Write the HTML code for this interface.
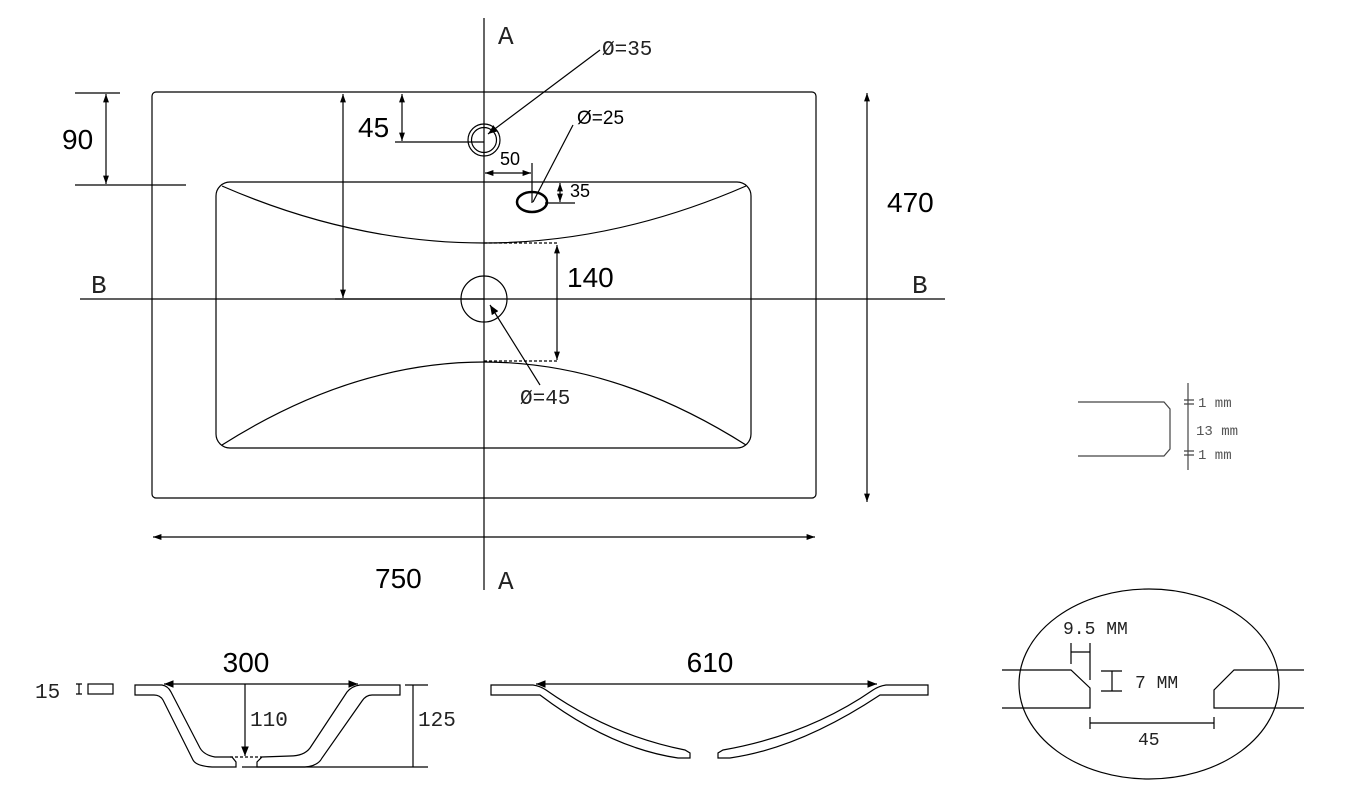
<!DOCTYPE html>
<html><head><meta charset="utf-8"><style>body{margin:0;background:#fff}svg{display:block}</style></head><body>
<svg width="1352" height="803" viewBox="0 0 1352 803" xmlns="http://www.w3.org/2000/svg">
<defs><marker id="a" viewBox="0 0 10 10" refX="10" refY="5" markerWidth="8" markerHeight="8" orient="auto-start-reverse"><path d="M0,1L10,5L0,9z" fill="#000"/></marker>
<marker id="s" viewBox="0 0 10 10" refX="10" refY="5" markerWidth="7" markerHeight="7" orient="auto-start-reverse"><path d="M0,1.5L10,5L0,8.5z" fill="#000"/></marker></defs>
<g fill="none" stroke="#000" stroke-width="1.2">
<rect x="152" y="92" width="664" height="406" rx="4"/>
<rect x="216" y="182" width="535" height="266" rx="14"/>
<path d="M222,186 Q484,300 746,186"/>
<path d="M222,445 Q484,279 746,445"/>
<line x1="484" y1="18" x2="484" y2="590"/>
<line x1="80" y1="299" x2="945" y2="299"/>
<circle cx="484" cy="140" r="16"/><circle cx="484" cy="140" r="12.5"/>
<ellipse cx="532" cy="202" rx="15" ry="10" stroke-width="2.5"/>
<circle cx="484" cy="299" r="23"/>
<line x1="106" y1="94" x2="106" y2="184" marker-start="url(#s)" marker-end="url(#s)"/>
<line x1="75" y1="93" x2="120" y2="93"/><line x1="75" y1="185" x2="186" y2="185"/>
<line x1="402" y1="94" x2="402" y2="141" marker-start="url(#s)" marker-end="url(#s)"/>
<line x1="395" y1="142" x2="484" y2="142"/>
<line x1="343" y1="94" x2="343" y2="298" marker-start="url(#s)" marker-end="url(#s)"/>
<line x1="335" y1="299" x2="484" y2="299"/>
<line x1="600" y1="50" x2="488" y2="134" marker-end="url(#a)"/>
<line x1="573" y1="125" x2="533" y2="202"/>
<line x1="485" y1="173" x2="531" y2="173" marker-start="url(#s)" marker-end="url(#s)"/>
<line x1="532" y1="163" x2="532" y2="203"/>
<line x1="560" y1="183" x2="560" y2="202" marker-start="url(#s)" marker-end="url(#s)"/>
<line x1="545" y1="203" x2="575" y2="203"/>
<line x1="557" y1="245" x2="557" y2="360" marker-start="url(#s)" marker-end="url(#s)"/>
<line x1="484" y1="243" x2="557" y2="243" stroke-dasharray="3,2"/>
<line x1="484" y1="361" x2="557" y2="361" stroke-dasharray="3,2"/>
<line x1="540" y1="385" x2="490" y2="305" marker-end="url(#a)"/>
<line x1="867" y1="93" x2="867" y2="502" marker-start="url(#s)" marker-end="url(#s)"/>
<line x1="153" y1="537" x2="815" y2="537" marker-start="url(#s)" marker-end="url(#s)"/>
<path d="M1078,402H1164L1170,409V449L1164,456H1078" stroke="#444"/>
<line x1="1188" y1="383" x2="1188" y2="470" stroke="#444"/>
<path d="M1184,400H1194M1184,404H1194M1184,451H1194M1184,455H1194" stroke="#444"/>
<rect x="88" y="684" width="25" height="10"/>
<path d="M76,684H82M79,684V694M76,694H82"/>
<path d="M135,685H162Q168,686 171,692L200,748Q204,755 215,757L232,757L236,762V767H212Q196,766 193,760L163,700Q160,695 154,695H135Z"/>
<path d="M400,685H360Q352,686 347,692L310,748Q304,756 290,756L262,757L257,762V767H305Q318,766 322,758L362,701Q366,695 372,695H400Z"/>
<line x1="164" y1="684" x2="358" y2="684" marker-start="url(#a)" marker-end="url(#a)"/>
<line x1="245" y1="684" x2="245" y2="756" marker-end="url(#a)"/>
<line x1="230" y1="757" x2="262" y2="757" stroke-dasharray="3,2"/>
<line x1="413" y1="685" x2="413" y2="767"/><line x1="405" y1="685" x2="428" y2="685"/>
<line x1="242" y1="767" x2="428" y2="767"/>
<path d="M491,685H533Q540,686 546,690Q610,735 685,750L690,753V758H678Q610,748 540,695H491Z"/>
<path d="M928,685H886Q879,686 873,690Q808,735 723,750L718,753V758H730Q800,748 880,695H928Z"/>
<line x1="536" y1="684" x2="877" y2="684" marker-start="url(#a)" marker-end="url(#a)"/>
<ellipse cx="1149" cy="684" rx="130" ry="95"/>
<path d="M1002,670H1071L1090,688V708H1002"/>
<path d="M1304,670H1234L1214,690V708H1304"/>
<path d="M1071,643V664M1090,643V680M1071,652H1090"/>
<path d="M1101,671H1122M1112,671V691M1101,691H1122"/>
<path d="M1090,723H1214M1090,717V729M1214,717V729"/>
</g>
<g font-family="'Liberation Mono', monospace" fill="#222">
<text x="498" y="44" font-size="26">A</text>
<text x="498" y="589" font-size="26">A</text>
<text x="91" y="293" font-size="26">B</text>
<text x="912" y="293" font-size="26">B</text>
<text x="602" y="55" font-size="21">Ø=35</text>
<text x="520" y="404" font-size="21">Ø=45</text>
<text x="35" y="698" font-size="21">15</text>
<text x="250" y="726" font-size="21">110</text>
<text x="418" y="726" font-size="21">125</text>
<text x="1063" y="634" font-size="18">9.5 MM</text>
<text x="1135" y="688" font-size="18">7 MM</text>
<text x="1138" y="745" font-size="18">45</text>
<g font-size="14" fill="#555"><text x="1198" y="407">1 mm</text><text x="1196" y="435">13 mm</text><text x="1198" y="459">1 mm</text></g>
</g>
<g font-family="'Liberation Sans', sans-serif" fill="#000">
<text x="62" y="149" font-size="28">90</text>
<text x="358" y="137" font-size="28">45</text>
<text x="577" y="124" font-size="19">Ø=25</text>
<text x="500" y="165" font-size="18">50</text>
<text x="570" y="197" font-size="18">35</text>
<text x="567" y="287" font-size="28">140</text>
<text x="887" y="212" font-size="28">470</text>
<text x="375" y="588" font-size="28">750</text>
<text x="246" y="672" font-size="28" text-anchor="middle">300</text>
<text x="710" y="672" font-size="28" text-anchor="middle">610</text>
</g>
</svg>
</body></html>
